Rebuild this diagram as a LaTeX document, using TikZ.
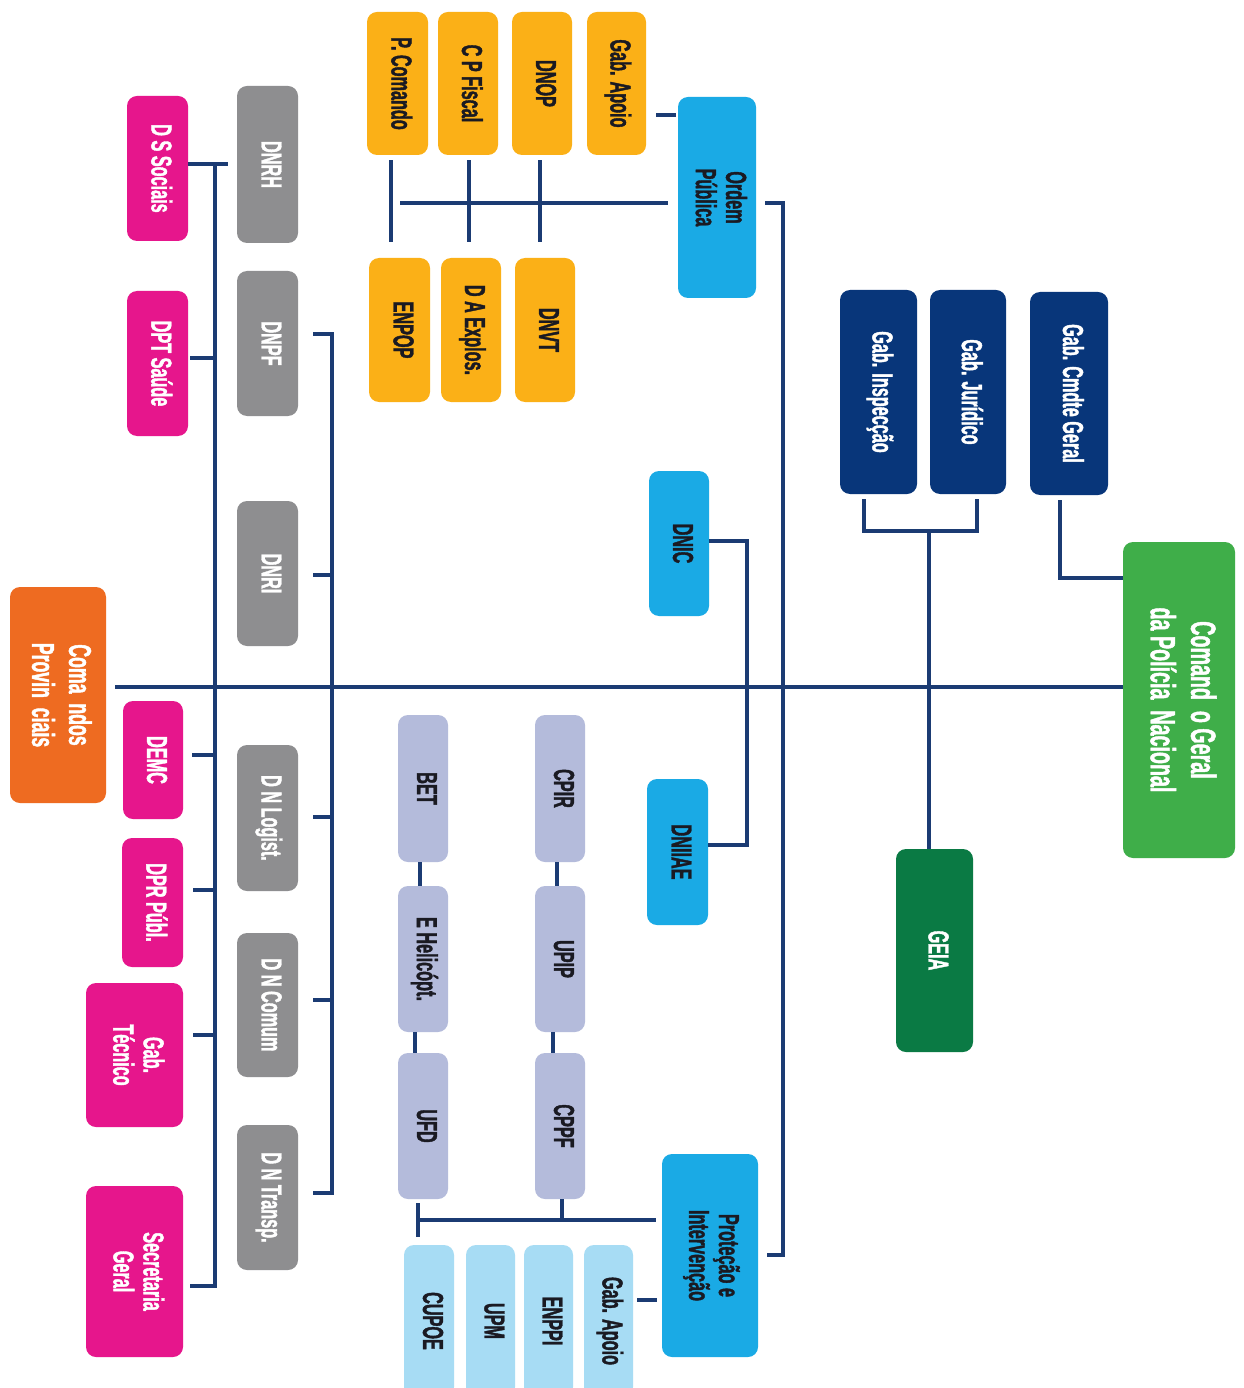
\documentclass[tikz,border=0pt]{standalone}
\usepackage{fontspec}
\newfontfamily\cf{Liberation Sans}[FakeStretch=0.56,BoldFeatures={FakeBold=1.3}]
\usetikzlibrary{calc}
\definecolor{lnc}{HTML}{1B3B73}
\definecolor{orng}{HTML}{FBB017}
\definecolor{sky}{HTML}{1AAAE5}
\definecolor{navyb}{HTML}{08367A}
\definecolor{cgreen}{HTML}{3FAE49}
\definecolor{dgreen}{HTML}{0A7A44}
\definecolor{provo}{HTML}{EE6B21}
\definecolor{pinkb}{HTML}{E6168C}
\definecolor{greyb}{HTML}{8E8E90}
\definecolor{lilac}{HTML}{B4BBDB}
\definecolor{pale}{HTML}{A7DCF4}
\definecolor{dtext}{HTML}{1A1A22}
\newcommand\obox[7]{\node[box,#6,minimum width={(#4-#2)*0.02cm},minimum height={(#5-#3)*0.02cm}] (#1) at ({(#2+#4)/2},{(#3+#5)/2}) {\rotatebox{-90}{\begin{tabular}{@{}c@{}}#7\end{tabular}}};}
\tikzset{
  box/.style={rectangle,rounded corners=0.2cm,inner sep=0pt,text=white,font=\cf\bfseries\fontsize{16.5}{17}\selectfont},
  orb/.style={fill=orng,text=dtext},
  skb/.style={fill=sky,text=dtext},
  nvb/.style={fill=navyb},
  lib/.style={fill=lilac,text=dtext},
  plb/.style={fill=pale,text=dtext},
  gyb/.style={fill=greyb},
  pkb/.style={fill=pinkb},
  ln/.style={draw=lnc,line width=1.9pt}
}
\begin{document}
\begin{tikzpicture}[x=0.02cm,y=-0.02cm]
\useasboundingbox (0,0) rectangle (1243,1388);
\fill[white] (0,0) rectangle (1243,1388);
\clip (0,0) rectangle (1243,1388);
% orange group
\obox{pcom}{367}{12}{428}{155}{orb}{P. Comando}
\obox{cpf}{438}{12}{498}{155}{orb}{C P Fiscal}
\obox{dnop}{512}{12}{572}{155}{orb}{DNOP}
\obox{gapo1}{587}{12}{646}{155}{orb}{Gab. Apoio}
\obox{enpop}{369}{258}{430}{402}{orb}{ENPOP}
\obox{daex}{441}{258}{501}{402}{orb}{D A Explos.}
\obox{dnvt}{515}{258}{575}{402}{orb}{DNVT}
\obox{ordem}{678}{97}{756}{298}{skb}{Ordem\\Pública}
% navy and greens
\obox{ginsp}{840}{290}{917}{494}{nvb}{Gab. Inspecção}
\obox{gjur}{930}{290}{1006}{494}{nvb}{Gab. Jurídico}
\obox{gcmd}{1030}{292}{1108}{495}{nvb}{Gab. Cmdte Geral}
\obox{cgeral}{1123}{542}{1235}{858}{fill=cgreen,font=\cf\bfseries\fontsize{20}{23}\selectfont}{Comand\ \ o Geral\\da Polícia\ \ Nacional}
\obox{geia}{896}{849}{973}{1052}{fill=dgreen}{GEIA}
% blue
\obox{dnic}{649}{471}{709}{616}{skb}{DNIC}
\obox{dniiae}{647}{779}{708}{925}{skb}{DNIIAE}
\obox{prot}{662}{1154}{758}{1357}{skb}{Proteção e\\Intervenção}
% lilac
\obox{cpir}{535}{715}{585}{862}{lib}{CPIR}
\obox{upip}{535}{886}{585}{1032}{lib}{UPIP}
\obox{cppf}{535}{1053}{585}{1199}{lib}{CPPF}
\obox{bet}{398}{715}{448}{862}{lib}{BET}
\obox{eheli}{398}{886}{448}{1032}{lib}{E Helicópt.}
\obox{ufd}{398}{1053}{448}{1199}{lib}{UFD}
% pale
\obox{cupoe}{404}{1245}{454}{1397}{plb}{CUPOE}
\obox{upm}{466}{1245}{515}{1397}{plb}{UPM}
\obox{enppi}{524}{1245}{573}{1397}{plb}{ENPPI}
\obox{gapo2}{584}{1245}{633}{1397}{plb}{Gab. Apoio}
% grey
\obox{dnrh}{237}{86}{298}{243}{gyb}{DNRH}
\obox{dnpf}{237}{271}{298}{416}{gyb}{DNPF}
\obox{dnri}{237}{501}{298}{646}{gyb}{DNRI}
\obox{dnlog}{237}{745}{298}{891}{gyb}{D N Logist.}
\obox{dncom}{237}{933}{298}{1077}{gyb}{D N Comum}
\obox{dntr}{237}{1125}{298}{1270}{gyb}{D N Transp.}
% pink
\obox{dss}{127}{96}{188}{241}{pkb}{D S Sociais}
\obox{dpts}{127}{291}{188}{436}{pkb}{DPT Saúde}
\obox{demc}{123}{701}{183}{819}{pkb}{DEMC}
\obox{dprp}{122}{838}{183}{967}{pkb}{DPR Públ.}
\obox{gtec}{86}{983}{183}{1127}{pkb}{Gab.\\Técnico}
\obox{sgeral}{86}{1186}{183}{1357}{pkb}{Secretaria\\Geral}
\obox{cprov}{10}{587}{106}{803}{fill=provo,font=\cf\bfseries\fontsize{18}{21}\selectfont}{Coma\ \ ndos\\Provin\ \ ciais}
% ---------- connectors
% orange group
\draw[ln] ([xshift=0.2cm]gapo1.east |- 0,115) -- ([xshift=-0.04cm]ordem.west |- 0,115);
\draw[ln] ([yshift=-0.1cm]pcom.south -| 391,0) -- ([yshift=0.32cm]enpop.north -| 391,0);
\draw[ln] ([yshift=-0.1cm]cpf.south -| 469,0) -- ([yshift=0.32cm]daex.north -| 469,0);
\draw[ln] ([yshift=-0.1cm]dnop.south -| 540,0) -- ([yshift=0.32cm]dnvt.north -| 540,0);
\coordinate (opb) at (400,203);
\draw[ln] (opb) -- ([xshift=-0.2cm]ordem.west |- opb);
\coordinate (rt) at (783,203);
\coordinate (rb) at (783,1255);
\draw[ln] ([xshift=0.18cm]ordem.east |- rt) -- (rt) -- (rb) -- ([xshift=0.18cm]prot.east |- rb);
% navy
\coordinate (ck) at (1060,578);
\draw[ln] ([yshift=-0.1cm]gcmd.south -| ck) -- (ck) -- (cgeral.west |- ck);
\coordinate (bl) at (864,531);
\coordinate (br) at (977,531);
\coordinate (bm) at (929,531);
\draw[ln] ([yshift=-0.1cm]ginsp.south -| bl) -- (bl) -- (br) -- ([yshift=-0.1cm]gjur.south -| br);
\draw[ln] (bm) -- (geia.north -| bm);
% main line
\coordinate (my) at (0,687);
\draw[ln] ([xshift=0.18cm]cprov.east |- my) -- (cgeral.west |- my);
% DNIC / DNIIAE
\coordinate (n1) at (747,541);
\coordinate (n2) at (747,845);
\draw[ln] (dnic.east |- n1) -- (n1) -- (n2) -- (dniiae.east |- n2);
% Protecao
\coordinate (p1) at (418,1220);
\coordinate (p2) at (562,1220);
\draw[ln] ([xshift=-0.12cm]prot.west |- p1) -- (p1);
\draw[ln] ([yshift=-0.08cm]ufd.south -| p1) -- ([yshift=0.16cm]cupoe.north -| p1);
\draw[ln] (cppf.south -| p2) -- (p2);
\draw[ln] ([xshift=0.08cm]gapo2.east |- 0,1300) -- ([xshift=-0.1cm]prot.west |- 0,1300);
% lilac chains
\draw[ln] (cpir.south -| 557,0) -- (upip.north -| 557,0);
\draw[ln] (upip.south -| 553,0) -- (cppf.north -| 553,0);
\draw[ln] (bet.south -| 420,0) -- (eheli.north -| 420,0);
\draw[ln] (eheli.south -| 415,0) -- (ufd.north -| 415,0);
% grey
\coordinate (gt) at (332,334);
\coordinate (gb) at (332,1193);
\draw[ln] ([xshift=0.3cm]dnpf.east |- gt) -- (gt) -- (gb) -- ([xshift=0.3cm]dntr.east |- gb);
\draw[ln] ([xshift=0.3cm]dnri.east |- 0,575) -- (332,575);
\draw[ln] ([xshift=0.3cm]dnlog.east |- 0,817) -- (332,817);
\draw[ln] ([xshift=0.3cm]dncom.east |- 0,1000) -- (332,1000);
% pink
\coordinate (pt) at (215,164);
\coordinate (pb) at (215,1286);
\draw[ln] (dss.east |- pt) -- ([xshift=-0.18cm]dnrh.west |- pt);
\draw[ln] (pt) -- (pb) -- ([xshift=0.14cm]sgeral.east |- pb);
\draw[ln] ([xshift=0.04cm]dpts.east |- 0,358) -- (215,358);
\draw[ln] ([xshift=0.18cm]demc.east |- 0,755) -- (215,755);
\draw[ln] ([xshift=0.2cm]dprp.east |- 0,890) -- (215,890);
\draw[ln] ([xshift=0.2cm]gtec.east |- 0,1035) -- (215,1035);
\end{tikzpicture}
\end{document}
